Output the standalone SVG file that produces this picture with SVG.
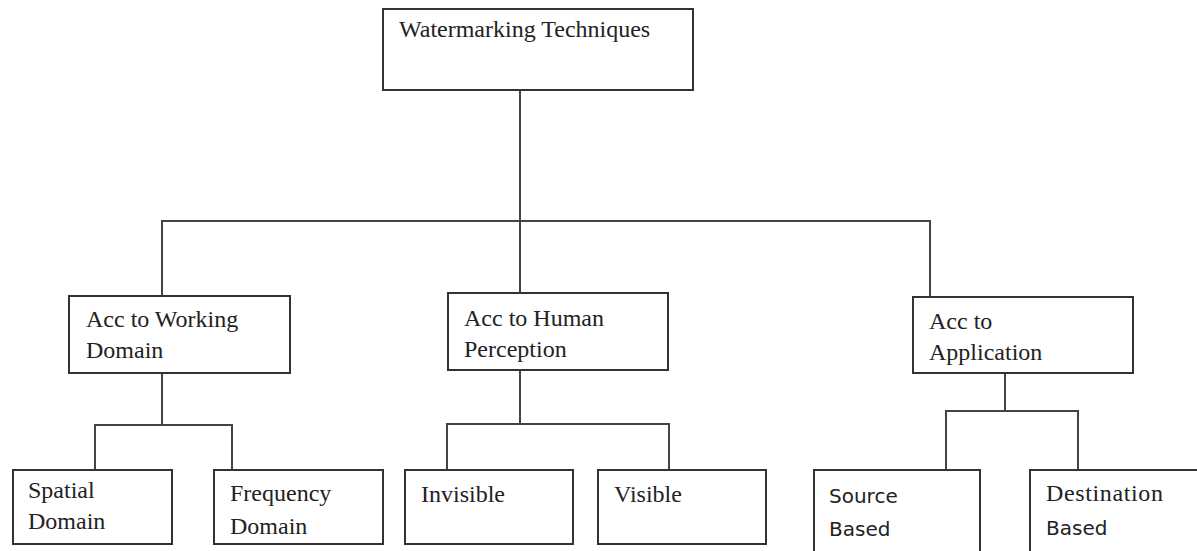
<svg xmlns="http://www.w3.org/2000/svg" width="1197" height="551" viewBox="0 0 1197 551">
<style>
.box{fill:#fff;stroke:#333;stroke-width:2}
.t{font-family:"Liberation Serif",serif;font-size:24px;fill:#222}
.s{font-family:"DejaVu Sans",sans-serif;font-size:20px;fill:#222}
.c{fill:none;stroke:#444;stroke-width:2}
</style>
<rect width="1197" height="551" fill="#fff"/>
<g id="connectors">
<path class="c" d="M520 90V294M162 296V221H930V298"/>
<path class="c" d="M162 373V425M95 470V425H232V470"/>
<path class="c" d="M520 370V424M447 470V424H669V470"/>
<path class="c" d="M1005 373V411M946 470V411H1078V470"/>
</g>
<g id="root"><rect class="box" x="383" y="9" width="310" height="81"/><text class="t" x="399" y="37">Watermarking Techniques</text></g>
<g id="working"><rect class="box" x="69" y="296" width="221" height="77"/><text class="t" x="86" y="327">Acc to Working</text><text class="t" x="86" y="358">Domain</text></g>
<g id="human"><rect class="box" x="448" y="293" width="220" height="77"/><text class="t" x="464" y="326">Acc to Human</text><text class="t" x="464" y="357">Perception</text></g>
<g id="application"><rect class="box" x="913" y="297" width="220" height="76"/><text class="t" x="929" y="329">Acc to</text><text class="t" x="929" y="360">Application</text></g>
<g id="spatial"><rect class="box" x="13" y="470" width="159" height="74"/><text class="t" x="28" y="498">Spatial</text><text class="t" x="28" y="529">Domain</text></g>
<g id="frequency"><rect class="box" x="214" y="470" width="169" height="74"/><text class="t" x="230" y="501">Frequency</text><text class="t" x="230" y="534">Domain</text></g>
<g id="invisible"><rect class="box" x="405" y="470" width="168" height="74"/><text class="t" x="421" y="502">Invisible</text></g>
<g id="visible"><rect class="box" x="598" y="470" width="168" height="74"/><text class="t" x="614" y="502">Visible</text></g>
<g id="source"><rect class="box" x="814" y="470" width="166" height="90"/><text class="s" x="829" y="503">Source</text><text class="s" x="829" y="536">Based</text></g>
<g id="destination"><rect class="box" x="1030" y="470" width="180" height="90"/><text class="t" x="1046" y="501" textLength="117">Destination</text><text class="s" x="1046" y="535" font-size="21">Based</text></g>
</svg>
